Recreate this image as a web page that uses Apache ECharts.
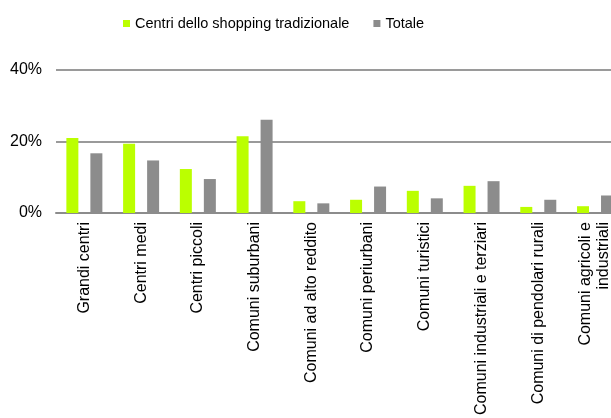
<!DOCTYPE html>
<html>
<head>
<meta charset="utf-8">
<script src="https://cdn.jsdelivr.net/npm/echarts@6/dist/echarts.min.js"></script>
<style>html,body{margin:0;padding:0;background:#fff}#c{width:611px;height:418px}</style>
</head>
<body>
<div id="c"></div>
<script>
var categories = ["Grandi centri","Centri medi","Centri piccoli","Comuni suburbani","Comuni ad alto reddito","Comuni periurbani","Comuni turistici","Comuni industriali e terziari","Comuni di pendolari rurali","Comuni agricoli e\nindustriali"];
var seriesNames = ["Centri dello shopping tradizionale","Totale"];
var tradizionale = [21.0,19.4,12.3,21.5,3.3,3.7,6.2,7.6,1.7,1.9];
var totale = [16.7,14.7,9.5,26.1,2.7,7.4,4.1,8.9,3.7,4.9];
var yTicks = [0,20,40];

var chart = echarts.init(document.getElementById('c'));
var font = 'Liberation Sans, Arial, sans-serif';
chart.setOption({
  animation:false,
  legend:{left:118, top:11, itemWidth:7, itemHeight:7, itemGap:24, itemStyle:{borderWidth:0}, icon:'rect',
    textStyle:{fontFamily:font,fontSize:14.5,color:'#000'}, data:seriesNames},
  grid:{left:56, top:70, width:567.4, height:143, containLabel:false, outerBoundsMode:'none'},
  xAxis:{type:'category', data:categories,
    axisLine:{lineStyle:{color:'#8c8c8c',width:2}}, axisTick:{show:false},
    axisLabel:{interval:0, rotate:90, margin:9, fontFamily:font, fontSize:16, color:'#000', lineHeight:18}},
  yAxis:{type:'value', min:yTicks[0], max:yTicks[yTicks.length-1], interval:20,
    axisLine:{show:false}, axisTick:{show:false},
    axisLabel:{formatter:'{value}%', margin:14, fontFamily:font, fontSize:16, color:'#000'},
    splitLine:{lineStyle:{color:'#9a9a9a',width:2}}},
  series:[
    {name:seriesNames[0], type:'bar', data:tradizionale, barWidth:12, barGap:'100%', itemStyle:{color:'#bbff00'}},
    {name:seriesNames[1], type:'bar', data:totale, barWidth:12, itemStyle:{color:'#8c8c8c'}}
  ]
});
</script>
</body>
</html>
